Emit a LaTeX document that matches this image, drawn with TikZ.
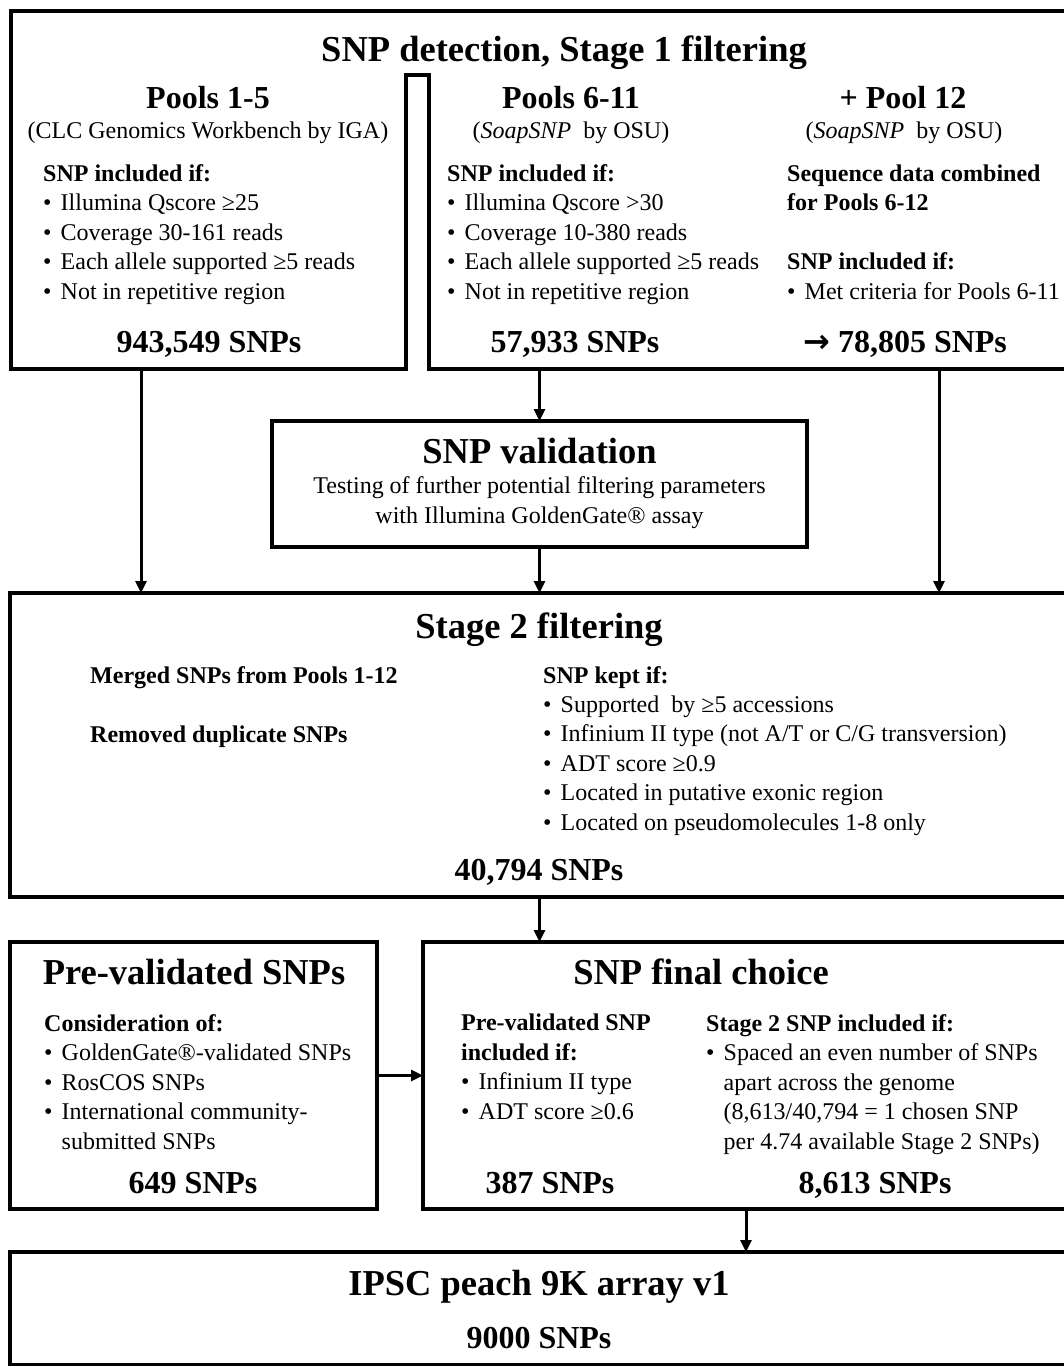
\documentclass[tikz,border=0pt]{standalone}
\usepackage{fontspec}
\setmainfont{Liberation Serif}
\newfontfamily\arrowfont{DejaVu Sans}
\usetikzlibrary{arrows.meta, positioning}

\newcommand{\bul}[1]{\makebox[17.5pt][l]{•}#1}
\newcommand{\hang}[1]{\hspace*{17.5pt}#1}

\begin{document}
\begin{tikzpicture}[x=1pt, y=-1pt,
  frame/.style={draw, line width=4pt, line join=miter},
  area/.style={rectangle, inner sep=0pt, outer sep=0pt, anchor=north west},
  box/.style={area, frame},
  title/.style={font=\fontsize{36.5}{40}\selectfont\bfseries, inner sep=0pt, anchor=base},
  head/.style={font=\fontsize{32}{36}\selectfont\bfseries, inner sep=0pt, anchor=base},
  note/.style={font=\fontsize{24}{29.4}\selectfont, inner sep=0pt, anchor=base, align=center},
  list/.style={font=\fontsize{24}{29.4}\selectfont, inner sep=0pt, anchor=base west, align=left},
  arr/.style={line width=3pt, -{Triangle[length=12pt, width=11pt]}}]
\useasboundingbox (0,0) rectangle (1064,1366);
\clip (0,0) rectangle (1064,1366);

% Stage 1: two pipelines under one frame
\node (clcbox) [area, minimum width=395pt, minimum height=358pt] at (11,11) {};
\node (soapbox) [area, minimum width=651pt, minimum height=358pt] at (429,11) {};
\coordinate (notch) at (417,75);
\draw[frame] (clcbox.north west) -- (soapbox.north east) -- (soapbox.south east) -- (soapbox.south west)
  -- (soapbox.west |- notch) -- (clcbox.east |- notch) -- (clcbox.south east) -- (clcbox.south west) -- cycle;

\node (stage1) [title] at (564,61) {SNP detection, Stage 1 filtering};

% multi-line nodes sit on their last line
\node (pools15) [head] at (208,108) {Pools 1-5};
\node (clc) [note] at (208,138) {(CLC Genomics Workbench by IGA)};
\node (crit15) [list] at (43,299) {\textbf{SNP included if:}\\
  \bul{Illumina Qscore ≥25}\\ \bul{Coverage 30-161 reads}\\
  \bul{Each allele supported ≥5 reads}\\ \bul{Not in repetitive region}};
\node (n943) [head] at (209,352) {943,549 SNPs};

\node (pools611) [head] at (571,108) {Pools 6-11};
\node (soap611) [note] at (571,138) {(\textit{SoapSNP}\ \ by OSU)};
\node (crit611) [list] at (447,299) {\textbf{SNP included if:}\\
  \bul{Illumina Qscore >30}\\ \bul{Coverage 10-380 reads}\\
  \bul{Each allele supported ≥5 reads}\\ \bul{Not in repetitive region}};
\node (n579) [head] at (575,352) {57,933 SNPs};

\node (pool12) [head] at (903,108) {+ Pool 12};
\node (soap12) [note] at (904,138) {(\textit{SoapSNP}\ \ by OSU)};
\node (crit12) [list] at (787,299) {\textbf{Sequence data combined}\\ \textbf{for Pools 6-12}\\ \\
  \textbf{SNP included if:}\\ \bul{Met criteria for Pools 6-11}};
\node (n788) [head, anchor=base west] at (803,352) {{\arrowfont →} 78,805 SNPs};

% validation
\node (valid) [box, minimum width=535pt, minimum height=126pt] at (272,421) {};
\node (validtitle) [title] at (539.5,463) {SNP validation};
\node (validnote) [note] at (539.5,523) {Testing of further potential filtering parameters\\ with Illumina GoldenGate® assay};

% Stage 2
\node (stage2) [box, minimum width=1070pt, minimum height=304pt] at (10,593) {};
\node (stage2title) [title] at (539,638) {Stage 2 filtering};
\node (merge) [list] at (90,742) {\textbf{Merged SNPs from Pools 1-12}\\ \\ \textbf{Removed duplicate SNPs}};
\node (kept) [list] at (543,830) {\textbf{SNP kept if:}\\
  \bul{Supported\ \ by ≥5 accessions}\\ \bul{Infinium II type (not A/T or C/G transversion)}\\
  \bul{ADT score ≥0.9}\\ \bul{Located in putative exonic region}\\ \bul{Located on pseudomolecules 1-8 only}};
\node (n407) [head] at (539,880) {40,794 SNPs};

% pre-validated and final choice
\node (prev) [box, minimum width=367pt, minimum height=267pt] at (10,942) {};
\node (prevtitle) [title] at (194,984) {Pre-validated SNPs};
\node (consider) [list] at (44,1149) {\textbf{Consideration of:}\\
  \bul{GoldenGate®-validated SNPs}\\ \bul{RosCOS SNPs}\\
  \bul{International community-}\\ \hang{submitted SNPs}};
\node (n649) [head] at (193,1193) {649 SNPs};

\node (final) [box, minimum width=657pt, minimum height=267pt] at (423,942) {};
\node (finaltitle) [title] at (701,984) {SNP final choice};
\node (prevcrit) [list] at (461,1119) {\textbf{Pre-validated SNP}\\ \textbf{included if:}\\
  \bul{Infinium II type}\\ \bul{ADT score ≥0.6}};
\node (stage2crit) [list] at (706,1149) {\textbf{Stage 2 SNP included if:}\\
  \bul{Spaced an even number of SNPs}\\ \hang{apart across the genome}\\
  \hang{(8,613/40,794 = 1 chosen SNP}\\ \hang{per 4.74 available Stage 2 SNPs)}};
\node (n387) [head] at (550,1193) {387 SNPs};
\node (n8613) [head] at (875,1193) {8,613 SNPs};

% array
\node (ipsc) [box, minimum width=1070pt, minimum height=113pt] at (10,1252) {};
\node (ipsctitle) [title] at (539,1295) {IPSC peach 9K array v1};
\node (n9000) [head] at (539,1348) {9000 SNPs};

% connectors
\coordinate (xl) at (141,0);
\coordinate (xr) at (939,0);
\coordinate (xf) at (746,0);
\draw[arr] (clcbox.south -| xl) -- (stage2.north -| xl);
\draw[arr] (soapbox.south -| valid.north) -- (valid.north);
\draw[arr] (soapbox.south -| xr) -- (stage2.north -| xr);
\draw[arr] (valid.south) -- (valid.south |- stage2.north);
\draw[arr] (valid.south |- stage2.south) -- (valid.south |- final.north);
\draw[arr] (prev.east) -- (final.west |- prev.east);
\draw[arr] (final.south -| xf) -- (ipsc.north -| xf);
\end{tikzpicture}
\end{document}
